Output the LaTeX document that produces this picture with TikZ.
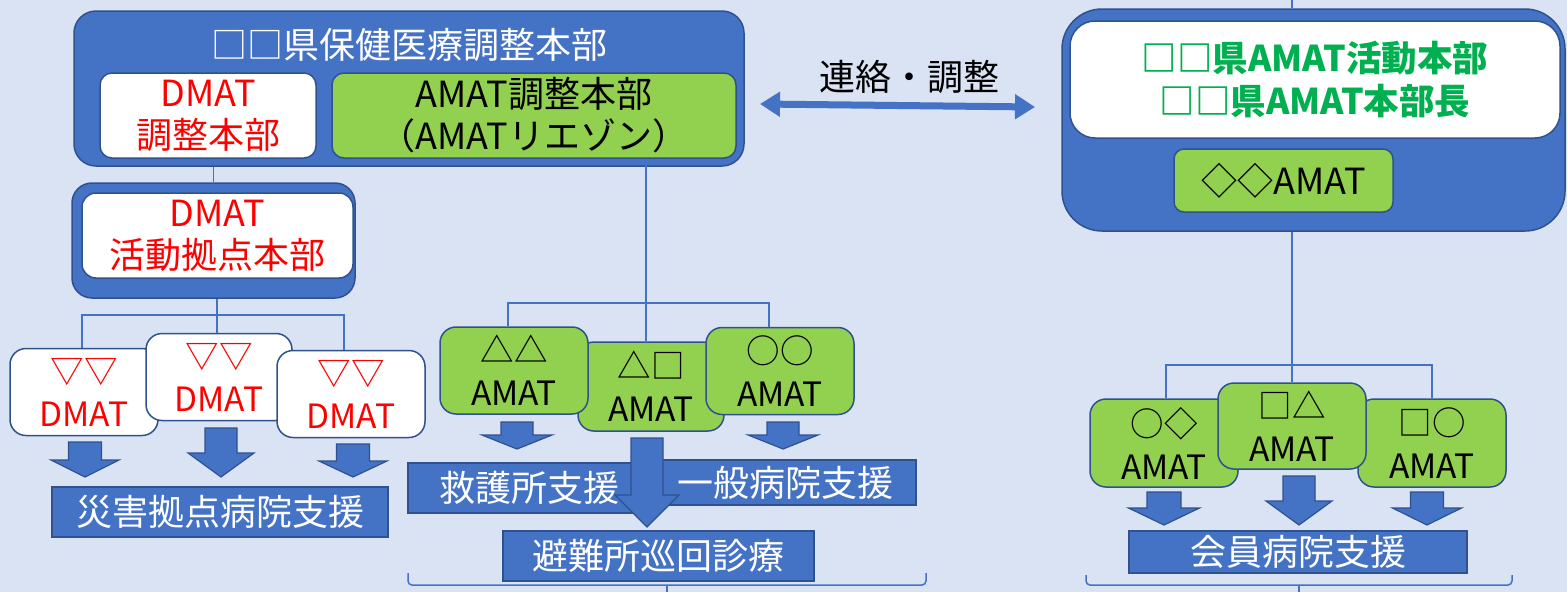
\documentclass[tikz,border=0pt]{standalone}
\usepackage{fontspec}
\setmainfont{Noto Sans CJK JP}
\usetikzlibrary{positioning,arrows.meta}
\definecolor{bgblue}{HTML}{DAE3F3}
\definecolor{ppblue}{HTML}{4472C4}
\definecolor{ppedge}{HTML}{2F528F}
\definecolor{ppgreen}{HTML}{92D050}
\definecolor{txgreen}{HTML}{00B050}
\newcommand{\blockarrow}[6]{%
  \filldraw[fill=ppblue,draw=ppedge,line width=1.2pt] (#1-#5,#2) -- (#1+#5,#2) -- (#1+#5,#3) -- (#1+#6,#3) -- (#1,#4) -- (#1-#6,#3) -- (#1-#5,#3) -- cycle;}

\begin{document}
\begin{tikzpicture}[x=1pt,y=-1pt,
    every node/.style={font=\fontsize{36}{42}\selectfont, align=center, inner sep=0pt},
    hub/.style={draw=ppedge, fill=ppblue, line width=1.5pt},
    wbox/.style={draw=ppedge, fill=white, line width=1.5pt, rounded corners=12pt},
    gbox/.style={draw=ppedge, fill=ppgreen, line width=1.5pt, rounded corners=12pt},
    sbox/.style={draw=ppedge, fill=ppblue, line width=1.5pt, text=white},
    team/.style={minimum width=148pt, minimum height=87pt, rounded corners=16pt, font=\fontsize{33.5}{43}\selectfont},
    link/.style={draw=ppblue, line width=1.5pt}]
    \useasboundingbox (0,0) rectangle (1567,592);
    \fill[bgblue] (0,0) rectangle (1567,592);

    \node[hub, rounded corners=22pt, minimum width=670pt, minimum height=155pt] (hq) at (409,88.5) {};
    \node[text=white] (hqtitle) at (409,45) {□□県保健医療調整本部};
    \node[wbox, text=red, minimum width=216pt, minimum height=85pt] (dcoord) at (208,115.5) {DMAT\\調整本部};
    \node[gbox, minimum width=404pt, minimum height=85pt] (acoord) at (534,115.5) {AMAT調整本部\\（AMATリエゾン）};

    \node[hub, rounded corners=20pt, minimum width=283pt, minimum height=115pt] (dact) at (213.5,240.5) {};
    \node[wbox, rounded corners=14pt, text=red, minimum width=271pt, minimum height=85pt] (dactin) at (217.5,235.5) {DMAT\\活動拠点本部};

    \node[wbox, team, text=red] (d1) at (84,392) {▽▽\\DMAT};
    \node[wbox, team, text=red, minimum width=146pt] (d2) at (219,377) {▽▽\\DMAT};
    \node[wbox, team, text=red] (d3) at (351,394) {▽▽\\DMAT};

    \node[gbox, team, minimum width=146pt, minimum height=89pt] (a2) at (651,386.5) {△□\\AMAT};
    \node[gbox, team] (a1) at (514,370.5) {△△\\AMAT};
    \node[gbox, team] (a3) at (780,371) {○○\\AMAT};

    \node[hub, rounded corners=40pt, minimum width=503pt, minimum height=222pt] (ract) at (1313.5,120) {};
    \node[wbox, rounded corners=25pt, minimum width=490pt, minimum height=117pt, text=txgreen,
          font=\bfseries\fontsize{35.5}{43}\selectfont] (rhead) at (1315,79.5) {□□県AMAT活動本部\\□□県AMAT本部長};
    \node[gbox, rounded corners=10pt, minimum width=219pt, minimum height=63pt] (rteam) at (1283.5,180.5) {◇◇AMAT};

    \node[gbox, team, minimum height=88pt] (r1) at (1164,443) {○◇\\AMAT};
    \node[gbox, team, minimum height=88pt] (r3) at (1432,443) {□○\\AMAT};
    \node[gbox, team, minimum height=86pt] (r2) at (1292,426) {□△\\AMAT};

    \node[sbox, minimum width=336pt, minimum height=50pt] (s1) at (220,512) {災害拠点病院支援};
    \node[sbox, minimum width=242pt, minimum height=50pt] (s2) at (529,488) {救護所支援};
    \node[sbox, minimum width=261pt, minimum height=45pt] (s3) at (785.5,482.5) {一般病院支援};
    \node[sbox, minimum width=311pt, minimum height=50pt] (s4) at (658.5,556) {避難所巡回診療};
    \node[sbox, minimum width=338pt, minimum height=42pt] (s5) at (1298,552) {会員病院支援};

    \blockarrow{85}{442}{460}{477}{16.5}{34}
    \blockarrow{221}{428}{453}{477}{16}{33}
    \blockarrow{353}{444}{461}{477}{16.5}{34}
    \blockarrow{517}{422}{435}{449}{16}{35}
    \blockarrow{647}{438}{495}{527}{16}{32}
    \blockarrow{783}{422}{435}{449}{16}{35}
    \blockarrow{1164}{492}{508}{525}{17}{35.5}
    \blockarrow{1299}{476}{501}{525}{16}{33}
    \blockarrow{1427}{492}{508}{525}{16.5}{34.5}

    \coordinate (lbus) at (217,315);
    \coordinate (lbusL) at (82,315);
    \coordinate (lbusR) at (344,315);
    \coordinate (mbus) at (646,303);
    \coordinate (mbusL) at (508,303);
    \coordinate (mbusR) at (769,303);
    \coordinate (rtop) at (1292,0);
    \coordinate (rbus) at (1292,365);
    \coordinate (rbusL) at (1166,365);
    \coordinate (rbusR) at (1432,365);

    \draw[link] (dact.north) -- (dact.north |- hq.south);
    \draw[link] (dact.south -| lbus) -- (d2.north -| lbus);
    \draw[link] (d1.north -| lbusL) -- (lbusL) -- (lbusR) -- (d3.north -| lbusR);
    \draw[link] (acoord.south -| mbus) -- (a2.north -| mbus);
    \draw[link] (a1.north -| mbusL) -- (mbusL) -- (mbusR) -- (a3.north -| mbusR);
    \draw[link] (rtop) -- (ract.north -| rtop);
    \draw[link] (ract.south -| rbus) -- (r2.north -| rbus);
    \draw[link] (r1.north -| rbusL) -- (rbusL) -- (rbusR) -- (r3.north -| rbusR);

    \coordinate (lnkL) at (760,104);
    \coordinate (lnkR) at (1035,107);
    \draw[ppblue, line width=7pt, {Triangle[width=24pt,length=20pt]}-{Triangle[width=24pt,length=20pt]}] (lnkL) -- (lnkR);
    \node (lnktxt) at (909,77) {連絡・調整};

    \draw[link, rounded corners=4pt] (408,573) -- (408,585) -- (926,585) -- (926,573);
    \draw[link] (667,585) -- (667,592);
    \draw[link, rounded corners=4pt] (1086,575) -- (1086,585) -- (1512,585) -- (1512,575);
    \draw[link] (1299,585) -- (1299,592);
\end{tikzpicture}
\end{document}
